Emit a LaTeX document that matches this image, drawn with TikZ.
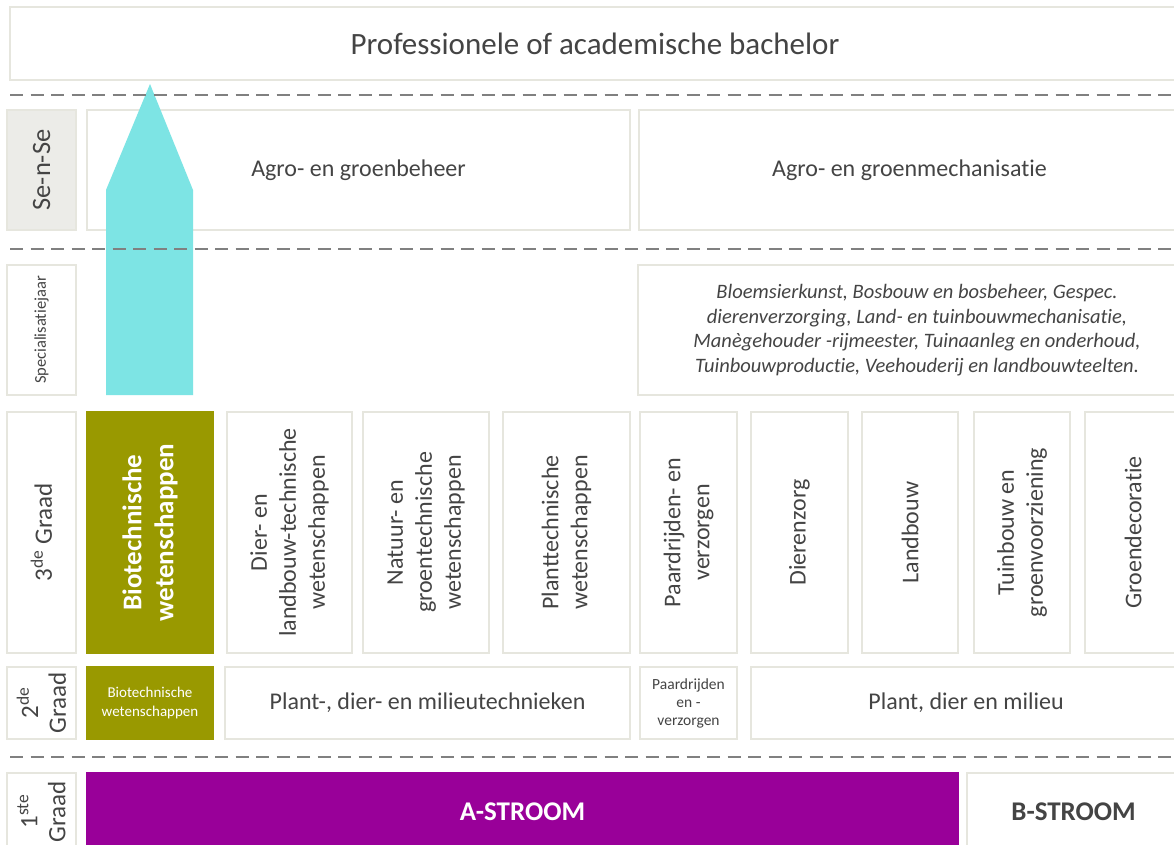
\documentclass[tikz,border=0pt]{standalone}
\usepackage{fontspec}
\setmainfont[Ligatures={NoCommon}]{Carlito}
\definecolor{bordc}{RGB}{230,230,222}
\definecolor{txtc}{RGB}{68,68,68}
\definecolor{lblfill}{RGB}{236,236,232}
\definecolor{olive}{RGB}{153,153,0}
\definecolor{purp}{RGB}{153,0,153}
\definecolor{cyanar}{RGB}{125,228,228}
\definecolor{dashc}{RGB}{128,128,128}
\begin{document}
\begin{tikzpicture}[x=1pt,y=-1pt,
  box/.style={draw=bordc, line width=1.8pt, fill=white, text=txtc, align=center, inner sep=0pt, outer sep=0pt},
  lbl/.style={box, rotate=90, font=\fontsize{25}{28}\selectfont},
  vbox/.style={box, rotate=90, font=\fontsize{24}{29}\selectfont},
  mid/.style={font=\fontsize{24}{28}\selectfont},
  sep/.style={draw=dashc, line width=2.5pt, dash pattern=on 13pt off 7.5pt},
  arrowshape/.style={fill=cyanar, draw=none}]
\clip (0,0) rectangle (1174,844);
\fill[white] (0,0) rectangle (1174,844);

% top
\node[box, minimum width=1170pt, minimum height=73pt, font=\fontsize{31}{36}\selectfont] (bach) at (595,43.5) {Professionele of academische bachelor};

% Se-n-Se row
\node[lbl, fill=lblfill, minimum width=120pt, minimum height=69pt, font=\fontsize{26.5}{30}\selectfont] (sense) at (41.5,170) {Se-n-Se};
\node[box, mid, minimum width=543pt, minimum height=120pt] (beheer) at (358.5,170) {Agro- en groenbeheer};
\node[box, mid, minimum width=541pt, minimum height=120pt] (mech) at (909.5,170) {Agro- en groenmechanisatie};

% arrow
\fill[arrowshape] (106,395) -- (106,190) -- (150,84) -- (193,190) -- (193,395) -- cycle;

% Specialisatiejaar row
\node[lbl, minimum width=130pt, minimum height=69pt, font=\fontsize{16.5}{18}\selectfont] (spec) at (41.5,330) {Specialisatiejaar};
\node[box, minimum width=558pt, minimum height=130pt, font=\fontsize{20.5}{24.5}\selectfont\itshape] (specs) at (917,330)
  {Bloemsierkunst, Bosbouw en bosbeheer, Gespec.\\dierenverzorging, Land- en tuinbouwmechanisatie,\\Manègehouder -rijmeester, Tuinaanleg en onderhoud,\\Tuinbouwproductie, Veehouderij en landbouwteelten.};

% 3de graad row
\node[lbl, minimum width=241pt, minimum height=69pt] (g3) at (41.5,532.5) {3\textsuperscript{de} Graad};
\node[box, rotate=90, fill=olive, draw=olive, text=white, minimum width=241pt, minimum height=126pt, font=\fontsize{27}{32}\selectfont\bfseries] (bio3) at (150,532.5) {Biotechnische\\wetenschappen};
\node[vbox, minimum width=241pt, minimum height=125pt] (c1) at (289.5,532.5) {Dier- en\\landbouw-technische\\wetenschappen};
\node[vbox, minimum width=241pt, minimum height=126pt] (c2) at (426,532.5) {Natuur- en\\groentechnische\\wetenschappen};
\node[vbox, minimum width=241pt, minimum height=127pt] (c3) at (566.5,532.5) {Planttechnische\\wetenschappen};
\node[vbox, minimum width=241pt, minimum height=97pt] (c4) at (688.5,532.5) {Paardrijden- en\\verzorgen};
\node[vbox, minimum width=241pt, minimum height=97pt] (c5) at (799.5,532.5) {Dierenzorg};
\node[vbox, minimum width=241pt, minimum height=96pt] (c6) at (910,532.5) {Landbouw};
\node[vbox, minimum width=241pt, minimum height=96pt] (c7) at (1022,532.5) {Tuinbouw en\\groenvoorziening};
\node[vbox, minimum width=241pt, minimum height=96pt] (c8) at (1133,532.5) {Groendecoratie};

% 2de graad row
\node[lbl, minimum width=72pt, minimum height=69pt] (g2) at (41.5,703) {2\textsuperscript{de}\\Graad};
\node[box, fill=olive, draw=olive, text=white, minimum width=126pt, minimum height=72pt, font=\fontsize{15}{18.5}\selectfont] (bio2) at (150,703) {Biotechnische\\wetenschappen};
\node[box, mid, minimum width=405pt, minimum height=72pt] (pdmt) at (427.5,703) {Plant-, dier- en milieutechnieken};
\node[box, minimum width=97pt, minimum height=72pt, font=\fontsize{15.5}{18}\selectfont] (paard2) at (688.5,703) {Paardrijden\\en -\\verzorgen};
\node[box, mid, minimum width=430pt, minimum height=72pt] (pdm) at (966,703) {Plant, dier en milieu};

% 1ste graad row
\node[lbl, minimum width=77pt, minimum height=69pt] (g1) at (41.5,811.5) {1\textsuperscript{ste}\\Graad};
\node[box, fill=purp, draw=purp, text=white, minimum width=871pt, minimum height=77pt, font=\fontsize{27}{30}\selectfont\bfseries] (astr) at (522.5,811.5) {A-STROOM};
\node[box, minimum width=213pt, minimum height=77pt, font=\fontsize{27}{30}\selectfont\bfseries] (bstr) at (1073.5,811.5) {B-STROOM};

% separators
\coordinate (s1l) at (10,95);  \coordinate (s1r) at (1174,95);
\coordinate (s2l) at (10,249); \coordinate (s2r) at (1174,249);
\coordinate (s3l) at (10,757); \coordinate (s3r) at (1174,757);
\draw[sep] (s1l) -- (s1r);
\draw[sep] (s2l) -- (s2r);
\draw[sep] (s3l) -- (s3r);
\end{tikzpicture}
\end{document}
